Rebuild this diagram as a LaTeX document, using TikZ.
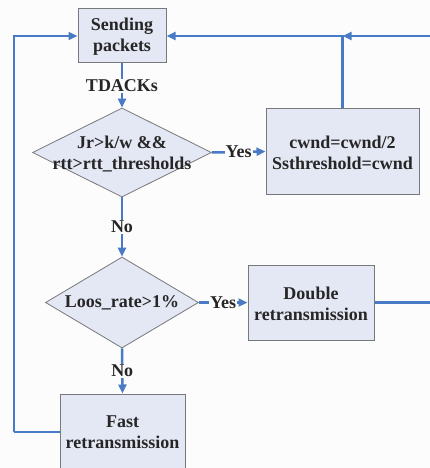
\documentclass[tikz,border=0pt]{standalone}
\usepackage{fontspec}
\setmainfont{Liberation Serif}
\usetikzlibrary{shapes.geometric,arrows.meta}
\definecolor{bgc}{RGB}{252,252,252}
\definecolor{linec}{RGB}{72,122,198}
\definecolor{boxfill}{RGB}{228,232,244}
\definecolor{boxdraw}{RGB}{120,120,124}
\tikzset{
  lbl/.style={font=\fontsize{18}{21}\selectfont\bfseries, text=black!85, align=center},
  pbox/.style={rectangle, draw=boxdraw, line width=1pt, fill=boxfill, inner sep=0pt},
  dia/.style={diamond, draw=boxdraw, line width=0.8pt, fill=boxfill, inner sep=0pt},
  conn/.style={draw=linec, line width=2.5pt, -{Triangle[length=9pt,width=8pt]}},
  plain/.style={draw=linec, line width=2.5pt},
  clab/.style={lbl, fill=bgc, inner sep=1pt},
}
\begin{document}
\begin{tikzpicture}[x=1pt,y=-1pt]
\fill[bgc] (0,0) rectangle (430,468);
\useasboundingbox (0,0) rectangle (430,468);
\clip (0,0) rectangle (430,468);
% nodes
\node[pbox, minimum width=88pt, minimum height=54pt] (snd) at (122,36) {};
\node[lbl] (sndt) at (122,37) {Sending\\packets};
\node[dia, minimum width=179pt, minimum height=89pt] (d1) at (122,152.5) {};
\node[lbl] (d1t) at (122,154) {Jr>k/w \&\&\\rtt>rtt\_thresholds};
\node[pbox, minimum width=153pt, minimum height=85pt] (cw) at (342.5,151.5) {};
\node[lbl] (cwt) at (342.5,153) {cwnd=cwnd/2\\Ssthreshold=cwnd};
\node[dia, minimum width=153pt, minimum height=91pt] (d2) at (122,302.5) {};
\node[lbl] (d2t) at (d2) {Loos\_rate>1\%};
\node[pbox, minimum width=126pt, minimum height=75pt] (dbl) at (311,302.5) {};
\node[lbl] (dblt) at (311,303.5) {Double\\retransmission};
\node[pbox, minimum width=125pt, minimum height=80pt] (fast) at (122.5,434) {};
\node[lbl] (fastt) at (122.5,432.5) {Fast\\retransmission};
% coordinates
\coordinate (R1) at (440,302.5);
\coordinate (R2) at (440,36);
\coordinate (J) at (cw.north |- snd.east);
\coordinate (L1) at (14,432);
\coordinate (L2) at (14,36);
% connectors
\draw[conn] (snd.south) -- node[clab] (tda) {TDACKs} (d1.north);
\draw[conn] (d1.east) -- node[clab] (y1) {Yes} (cw.west);
\draw[conn] (d1.south) -- node[clab] (n1) {No} (d2.north);
\draw[conn] (d2.east) -- node[clab] (y2) {Yes} (dbl.west);
\draw[conn] (d2.south) -- node[clab] (n2) {No} (fast.north);
\draw[plain] (fast.west |- L1) -- (L1);
\draw[conn] (L1) -- (L2) -- (snd.west);
\draw[plain] (dbl.east) -- (R1) -- (R2);
\draw[conn] (R2) -- (J);
\draw[conn] (cw.north) -- (J) -- (snd.east);
\end{tikzpicture}
\end{document}
